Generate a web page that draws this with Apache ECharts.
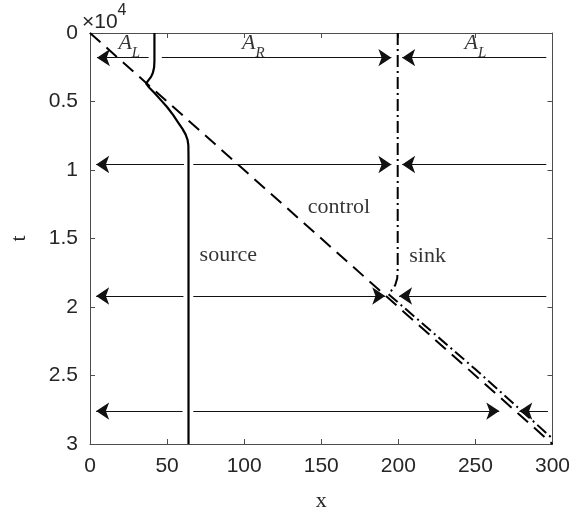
<!DOCTYPE html>
<html>
<head>
<meta charset="utf-8">
<script src="https://cdn.jsdelivr.net/npm/echarts@6/dist/echarts.min.js"></script>
<style>html,body{margin:0;padding:0;background:#fff}#c{width:573px;height:517px}</style>
</head>
<body>
<div id="c"></div>
<script>
// ---- data ----
var xTicks = [0, 50, 100, 150, 200, 250, 300];
var tTicks = [0, 0.5, 1, 1.5, 2, 2.5, 3];
// source front (x, t in 1e4)
var sourceX = [41.8, 41.8, 41.6, 40.8, 39.6, 37.6, 36.4, 38.5, 42, 46, 50, 54, 57, 60, 62, 63.3, 63.8, 63.9, 63.9];
var sourceT = [0, 0.2, 0.25, 0.29, 0.32, 0.35, 0.37, 0.4, 0.44, 0.49, 0.54, 0.6, 0.65, 0.7, 0.74, 0.78, 0.82, 0.9, 3];
// control line
var controlX = [0, 300];
var controlT = [0, 3];
// sink front
var sinkX = [199.6, 199.6, 199.3, 198, 195.5, 193.5, 250, 300];
var sinkT = [0, 1.72, 1.79, 1.84, 1.88, 1.905, 2.455, 2.96];
// arrows (from x -> to x at time t)
var arrowT     = [0.18, 0.18, 0.18, 0.96, 0.96, 0.96, 1.92, 1.92, 1.92, 2.76, 2.76, 2.76];
var arrowFromX = [38, 46.6, 296, 61, 67, 296, 60.6, 67, 296, 60, 67, 297];
var arrowToX   = [4.5, 195.5, 202.5, 4, 195.5, 202.5, 4, 191.5, 200.5, 4, 265.5, 278.5];
// text labels
var labelText = ['AL', 'AR', 'AL', 'control', 'source', 'sink'];
var labelX = [25.5, 106, 250, 161.5, 89.7, 219];
var labelT = [0.1, 0.1, 0.1, 1.27, 1.62, 1.63];

function pairs(xs, ts) { return xs.map(function (x, i) { return [x, ts[i]]; }); }

var chart = echarts.init(document.getElementById('c'), null, { renderer: 'canvas' });
var axisCol = '#4d4d4d';
var tickFont = { fontFamily: 'Liberation Sans', fontSize: 21, color: '#262626' };

var arrowData = arrowT.map(function (t, i) {
  return { coords: [[arrowFromX[i], t], [arrowToX[i], t]] };
});

var labelData = labelText.map(function (s, i) {
  var f;
  if (s === 'AL') f = '{a|A}{s|L}';
  else if (s === 'AR') f = '{a|A}{s|R}';
  else f = '{w|' + s + '}';
  return { value: [labelX[i], labelT[i]], label: { formatter: f } };
});

var option = {
  animation: false,
  backgroundColor: '#fff',
  grid: { left: 83, right: 20, top: 33, bottom: 64, containLabel: false },
  xAxis: [{
    type: 'value', min: 0, max: 300, interval: 50,
    name: 'x', nameLocation: 'middle', nameGap: 46,
    nameTextStyle: { fontFamily: 'Liberation Serif', fontSize: 22, color: '#262626' },
    axisLine: { show: true, onZero: false, lineStyle: { color: axisCol, width: 1 } },
    axisTick: { show: true, inside: true, length: 5, lineStyle: { color: axisCol } },
    axisLabel: Object.assign({ margin: 12 }, tickFont),
    splitLine: { show: false }
  }, {
    type: 'value', min: 0, max: 300, interval: 50, position: 'top',
    axisLine: { show: true, onZero: false, lineStyle: { color: axisCol, width: 1 } },
    axisTick: { show: true, inside: true, length: 5, lineStyle: { color: axisCol } },
    axisLabel: { show: false }, splitLine: { show: false }
  }],
  yAxis: [{
    type: 'value', min: 0, max: 3, interval: 0.5, inverse: true,
    name: 't', nameLocation: 'middle', nameGap: 60, nameRotate: 90,
    nameTextStyle: { fontFamily: 'Liberation Serif', fontSize: 22, color: '#262626' },
    axisLine: { show: true, onZero: false, lineStyle: { color: axisCol, width: 1 } },
    axisTick: { show: true, inside: true, length: 5, lineStyle: { color: axisCol } },
    axisLabel: Object.assign({ margin: 12, formatter: function (v) { return String(v); } }, tickFont),
    splitLine: { show: false }
  }, {
    type: 'value', min: 0, max: 3, interval: 0.5, inverse: true, position: 'right',
    axisLine: { show: true, onZero: false, lineStyle: { color: axisCol, width: 1 } },
    axisTick: { show: true, inside: true, length: 5, lineStyle: { color: axisCol } },
    axisLabel: { show: false }, splitLine: { show: false }
  }],
  graphic: [{
    type: 'text', left: 82, top: 3,
    style: {
      text: '{m|\u00d710}{p|4}',
      rich: {
        m: { fontFamily: 'Liberation Sans', fontSize: 21, fill: '#262626', verticalAlign: 'bottom', lineHeight: 30 },
        p: { fontFamily: 'Liberation Sans', fontSize: 16, fill: '#262626', verticalAlign: 'top', lineHeight: 30 }
      }
    }
  }],
  series: [{
    type: 'line', name: 'source', data: pairs(sourceX, sourceT), showSymbol: false, symbol: 'none',
    lineStyle: { color: '#000', width: 2.2 }, z: 3
  }, {
    type: 'line', name: 'control', data: pairs(controlX, controlT), showSymbol: false, symbol: 'none',
    lineStyle: { color: '#000', width: 2, type: [14, 8] }, z: 3
  }, {
    type: 'line', name: 'sink', data: pairs(sinkX, sinkT), showSymbol: false, symbol: 'none',
    lineStyle: { color: '#000', width: 2, type: [12, 4, 2, 4] }, z: 3
  }, {
    type: 'lines', coordinateSystem: 'cartesian2d', data: arrowData,
    symbol: ['none', 'arrow'], symbolSize: [10, 13],
    lineStyle: { color: '#111', width: 1.1, opacity: 1 },
    itemStyle: { color: '#111' }, z: 4
  }, {
    type: 'scatter', data: labelData, symbolSize: 0, z: 5,
    label: {
      show: true, position: 'inside',
      rich: {
        a: { fontFamily: 'Liberation Serif', fontStyle: 'italic', fontSize: 22, color: '#000', verticalAlign: 'top', lineHeight: 28 },
        s: { fontFamily: 'Liberation Serif', fontStyle: 'italic', fontSize: 15, color: '#000', verticalAlign: 'bottom', lineHeight: 28 },
        w: { fontFamily: 'Liberation Serif', fontSize: 22, color: '#000' }
      }
    }
  }]
};
chart.setOption(option);
</script>
</body>
</html>
